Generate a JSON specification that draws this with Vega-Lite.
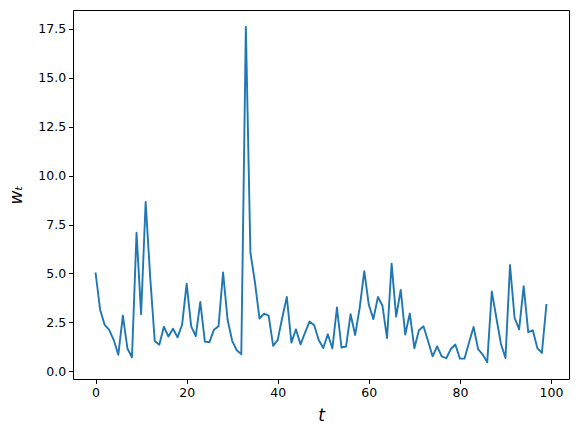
{
  "$schema": "https://vega.github.io/schema/vega-lite/v6.json",
  "autosize": "none",
  "padding": {"left": 73, "top": 10, "right": 9, "bottom": 56},
  "width": 496,
  "height": 369,
  "background": "white",
  "config": {
    "view": {"stroke": "black", "strokeWidth": 1},
    "axis": {
      "domain": false,
      "grid": false,
      "tickColor": "black",
      "tickSize": 4.4,
      "tickWidth": 1,
      "labelColor": "black",
      "labelFont": "DejaVu Sans",
      "labelFontSize": 12.5,
      "labelPadding": 3,
      "titleFont": "DejaVu Sans",
      "titleFontStyle": "italic",
      "titleFontWeight": "normal",
      "titleFontSize": 17,
      "titleColor": "black"
    }
  },
  "data": {
    "values": [
      {"t": 0, "w": 5.05}, {"t": 1, "w": 3.15}, {"t": 2, "w": 2.38}, {"t": 3, "w": 2.12}, {"t": 4, "w": 1.6},
      {"t": 5, "w": 0.85}, {"t": 6, "w": 2.85}, {"t": 7, "w": 1.17}, {"t": 8, "w": 0.72}, {"t": 9, "w": 7.08},
      {"t": 10, "w": 2.92}, {"t": 11, "w": 8.65}, {"t": 12, "w": 4.8}, {"t": 13, "w": 1.55}, {"t": 14, "w": 1.36},
      {"t": 15, "w": 2.28}, {"t": 16, "w": 1.78}, {"t": 17, "w": 2.18}, {"t": 18, "w": 1.74}, {"t": 19, "w": 2.38},
      {"t": 20, "w": 4.48}, {"t": 21, "w": 2.3}, {"t": 22, "w": 1.8}, {"t": 23, "w": 3.55}, {"t": 24, "w": 1.52},
      {"t": 25, "w": 1.49}, {"t": 26, "w": 2.13}, {"t": 27, "w": 2.3}, {"t": 28, "w": 5.05}, {"t": 29, "w": 2.62},
      {"t": 30, "w": 1.56}, {"t": 31, "w": 1.08}, {"t": 32, "w": 0.88}, {"t": 33, "w": 17.6}, {"t": 34, "w": 6.07},
      {"t": 35, "w": 4.55}, {"t": 36, "w": 2.7}, {"t": 37, "w": 2.95}, {"t": 38, "w": 2.85}, {"t": 39, "w": 1.3},
      {"t": 40, "w": 1.61}, {"t": 41, "w": 2.75}, {"t": 42, "w": 3.8}, {"t": 43, "w": 1.47}, {"t": 44, "w": 2.15},
      {"t": 45, "w": 1.38}, {"t": 46, "w": 1.98}, {"t": 47, "w": 2.55}, {"t": 48, "w": 2.36}, {"t": 49, "w": 1.6},
      {"t": 50, "w": 1.19}, {"t": 51, "w": 1.9}, {"t": 52, "w": 1.17}, {"t": 53, "w": 3.26}, {"t": 54, "w": 1.22},
      {"t": 55, "w": 1.27}, {"t": 56, "w": 2.92}, {"t": 57, "w": 1.86}, {"t": 58, "w": 3.26}, {"t": 59, "w": 5.12},
      {"t": 60, "w": 3.4}, {"t": 61, "w": 2.67}, {"t": 62, "w": 3.8}, {"t": 63, "w": 3.35}, {"t": 64, "w": 1.7},
      {"t": 65, "w": 5.5}, {"t": 66, "w": 2.8}, {"t": 67, "w": 4.16}, {"t": 68, "w": 1.88}, {"t": 69, "w": 2.96},
      {"t": 70, "w": 1.18}, {"t": 71, "w": 2.1}, {"t": 72, "w": 2.3}, {"t": 73, "w": 1.55}, {"t": 74, "w": 0.77},
      {"t": 75, "w": 1.28}, {"t": 76, "w": 0.77}, {"t": 77, "w": 0.67}, {"t": 78, "w": 1.14}, {"t": 79, "w": 1.37},
      {"t": 80, "w": 0.65}, {"t": 81, "w": 0.65}, {"t": 82, "w": 1.48}, {"t": 83, "w": 2.27}, {"t": 84, "w": 1.13},
      {"t": 85, "w": 0.86}, {"t": 86, "w": 0.47}, {"t": 87, "w": 4.08}, {"t": 88, "w": 2.74}, {"t": 89, "w": 1.41},
      {"t": 90, "w": 0.68}, {"t": 91, "w": 5.43}, {"t": 92, "w": 2.74}, {"t": 93, "w": 2.15}, {"t": 94, "w": 4.35},
      {"t": 95, "w": 2.0}, {"t": 96, "w": 2.1}, {"t": 97, "w": 1.19}, {"t": 98, "w": 0.94}, {"t": 99, "w": 3.44}
    ]
  },
  "mark": {"type": "line", "color": "#1f77b4", "strokeWidth": 1.9, "strokeJoin": "round"},
  "encoding": {
    "x": {
      "field": "t",
      "type": "quantitative",
      "title": "t",
      "scale": {"domain": [-4.95, 103.95], "nice": false, "zero": false},
      "axis": {"values": [0, 20, 40, 60, 80, 100], "titlePadding": 9}
    },
    "y": {
      "field": "w",
      "type": "quantitative",
      "title": "wₜ",
      "scale": {"domain": [-0.39, 18.46], "nice": false, "zero": false},
      "axis": {"values": [0, 2.5, 5, 7.5, 10, 12.5, 15, 17.5], "format": ".1f", "titlePadding": 12}
    }
  }
}
